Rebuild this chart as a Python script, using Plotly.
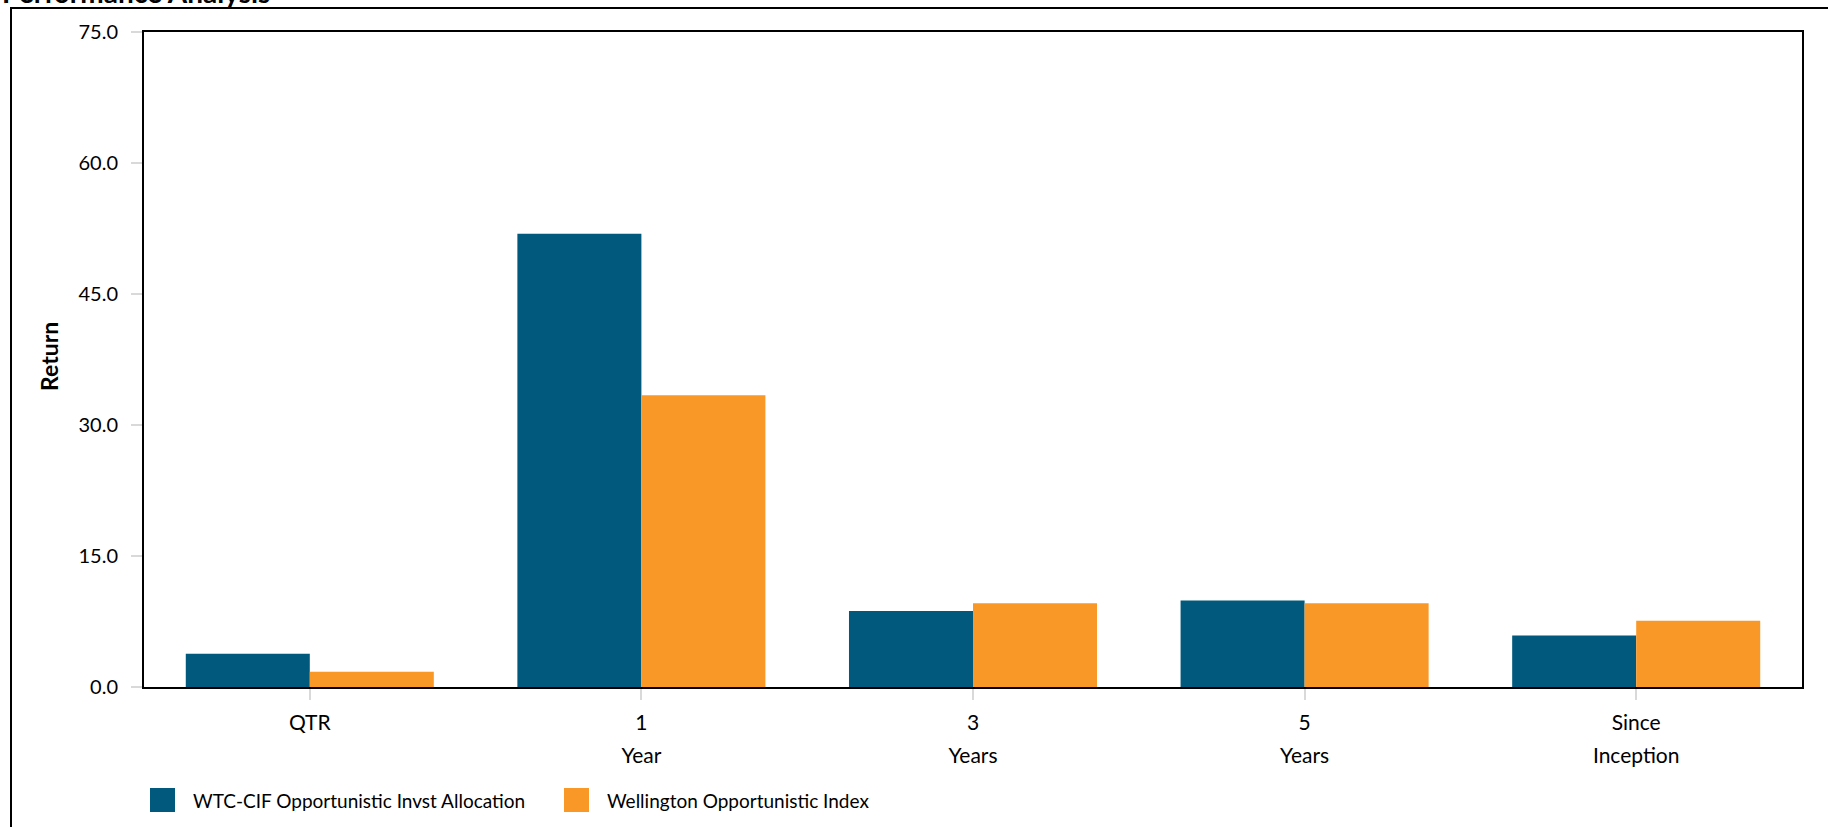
import plotly.graph_objects as go

categories = ["QTR", "1<br>Year", "3<br>Years", "5<br>Years", "Since<br>Inception"]
series_names = ["WTC-CIF Opportunistic Invst Allocation", "Wellington Opportunistic Index"]
fund_values = [3.8, 51.9, 8.7, 9.9, 5.9]
index_values = [1.75, 33.4, 9.6, 9.6, 7.6]
series_colors = ["#015A7D", "#FA9827"]
y_ticks = [0, 15, 30, 45, 60, 75]

W, H = 1828, 827
ML, MR, MT, MB = 144, 26, 32, 140
PW, PH = W - ML - MR, H - MT - MB


def px(x):
    return (x - ML) / PW


def py(y):
    return (H - MB - y) / PH


fig = go.Figure()
for name, vals, col in zip(series_names, [fund_values, index_values], series_colors):
    fig.add_trace(go.Bar(x=categories, y=vals, name=name, marker_color=col,
                         marker_line_width=0, showlegend=False))

# tick text: same words, each line in a 21px span, base font larger for wider line spacing
tick_text = ["<br>".join(f"<span style='font-size:21px'>{part}</span>" for part in c.split("<br>"))
             for c in categories]

shapes = [
    # outer frame
    dict(type="rect", xref="paper", yref="paper", x0=px(11), x1=px(1840), y0=py(8), y1=py(850),
         line=dict(color="black", width=2), layer="below"),
]
annotations = [
    dict(text="<b>Performance Analysis</b>", xref="paper", yref="paper", x=px(0), y=py(11),
         xanchor="left", yanchor="bottom", showarrow=False,
         font=dict(family="Lato", size=28, color="black")),
    dict(text="<b>Return</b>", xref="paper", yref="paper", x=px(49), y=py(357),
         xanchor="center", yanchor="middle", textangle=-90, showarrow=False,
         font=dict(family="Lato", size=23, color="black")),
]
leg_x = [150, 564]
for name, col, lx in zip(series_names, series_colors, leg_x):
    shapes.append(dict(type="rect", xref="paper", yref="paper", x0=px(lx), x1=px(lx + 25),
                       y0=py(812), y1=py(788), fillcolor=col, line=dict(width=0)))
    annotations.append(dict(text=name, xref="paper", yref="paper", x=px(lx + 41), y=py(800),
                            xanchor="left", yanchor="middle", showarrow=False,
                            font=dict(family="Lato", size=19, color="black")))

fig.update_layout(
    width=W, height=H,
    margin=dict(l=ML, r=MR, t=MT, b=MB, autoexpand=False),
    paper_bgcolor="white", plot_bgcolor="white",
    barmode="group", bargap=0.252, bargroupgap=0,
    shapes=shapes, annotations=annotations,
    showlegend=False,
)
fig.update_xaxes(
    type="category", showline=True, linecolor="black", linewidth=2, mirror=True,
    tickmode="array", tickvals=categories, ticktext=tick_text,
    ticks="outside", ticklen=11, tickwidth=2, tickcolor="#D9D9D9",
    tickfont=dict(family="Lato", size=25, color="black"), showgrid=False,
)
fig.update_yaxes(
    range=[0, 75], tickvals=y_ticks, tickformat=".1f",
    showline=True, linecolor="black", linewidth=2, mirror=True,
    ticks="outside", ticklen=11, tickwidth=2, tickcolor="#D9D9D9",
    ticklabelstandoff=9,
    tickfont=dict(family="Lato", size=20, color="black"),
    showgrid=False, zeroline=False,
)

fig.write_html("out.html", config={"displayModeBar": False},
               post_script="document.body.style.margin='0';document.body.style.overflow='hidden';")
